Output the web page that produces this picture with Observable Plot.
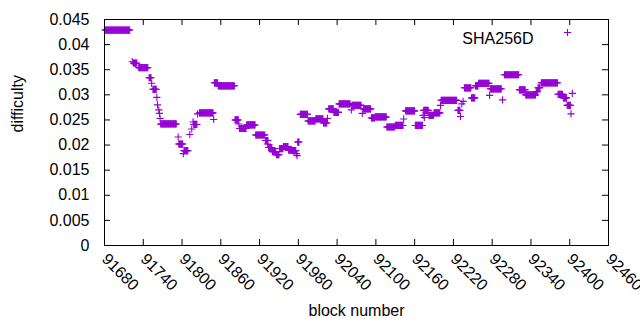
<!DOCTYPE html>
<html>
<head>
<meta charset="utf-8">
<script src="https://cdn.jsdelivr.net/npm/d3@7"></script>
<script src="https://cdn.jsdelivr.net/npm/@observablehq/plot@0.6"></script>
<style>
  html, body { margin: 0; padding: 0; background: white; }
</style>
</head>
<body>
<div id="chart"></div>
<script>
// Runs of consecutive blocks sharing the same difficulty (start block, end block, value)
const runStart = [91681,91723,91725,91733,91749,91753,91755,91761,91762,91764,91765,91766,91767,91794,91795,91802,91803,91812,91815,91817,91818,91824,91827,91849,91850,91856,91882,91888,91889,91900,91914,91929,91932,91934,91940,91946,91951,91957,91965,91971,91977,91978,91979,91983,91995,92007,92019,92025,92027,92035,92043,92062,92063,92079,92081,92093,92099,92117,92130,92143,92146,92161,92173,92174,92175,92182,92190,92200,92201,92227,92231,92233,92235,92237,92248,92254,92259,92276,92277,92296,92299,92322,92332,92348,92351,92356,92382,92390,92396,92402,92404];
const runEnd   = [91719,91723,91730,91747,91752,91753,91760,91761,91762,91764,91765,91766,91791,91794,91801,91802,91809,91812,91815,91817,91823,91824,91848,91849,91855,91881,91887,91888,91899,91913,91928,91933,91932,91939,91945,91950,91956,91964,91970,91976,91977,91978,91981,91994,92006,92018,92024,92025,92034,92042,92060,92062,92077,92079,92092,92098,92116,92129,92142,92143,92160,92172,92173,92181,92175,92189,92199,92200,92225,92230,92231,92233,92235,92247,92253,92258,92275,92276,92294,92296,92321,92331,92347,92350,92354,92381,92389,92395,92401,92402,92404];
const runValue = [0.0429,0.0366,0.0363,0.0354,0.0334,0.0323,0.0311,0.0295,0.0280,0.0270,0.0263,0.0253,0.0242,0.0216,0.0202,0.0183,0.0189,0.0221,0.0232,0.0246,0.0241,0.0262,0.0264,0.0251,0.0324,0.0318,0.0250,0.0242,0.0233,0.0240,0.0220,0.0209,0.0202,0.0195,0.0187,0.0181,0.0193,0.0197,0.0190,0.0189,0.0183,0.0179,0.0206,0.0261,0.0248,0.0252,0.0244,0.0253,0.0272,0.0265,0.0282,0.0270,0.0279,0.0263,0.0272,0.0254,0.0256,0.0236,0.0239,0.0252,0.0268,0.0239,0.0259,0.0269,0.0255,0.0259,0.0264,0.0279,0.0289,0.0269,0.0257,0.0282,0.0287,0.0314,0.0294,0.0318,0.0323,0.0299,0.0312,0.0290,0.0340,0.0310,0.0300,0.0306,0.0314,0.0324,0.0301,0.0294,0.0279,0.0262,0.0303];

const seriesName = "SHA256D";
const xTicks = [91680,91740,91800,91860,91920,91980,92040,92100,92160,92220,92280,92340,92400,92460];
const xTickLabels = ["91680","91740","91800","91860","91920","91980","92040","92100","92160","92220","92280","92340","92400","92460"];
const yTicks = [0,0.005,0.01,0.015,0.02,0.025,0.03,0.035,0.04,0.045];
const yTickLabels = ["0","0.005","0.01","0.015","0.02","0.025","0.03","0.035","0.04","0.045"];
const xLabel = "block number";
const yLabel = "difficulty";

const points = [];
runStart.forEach((s, i) => {
  for (let b = s; b <= runEnd[i]; b++) points.push({block: b, difficulty: runValue[i]});
});

const plusSymbol = {
  draw(context, size) {
    const r = Math.sqrt(size / Math.PI);
    context.moveTo(-r, 0); context.lineTo(r, 0);
    context.moveTo(0, -r); context.lineTo(0, r);
  }
};

const color = "#9400d3";
const W = 640, H = 330, mL = 104, mR = 32, mT = 19, mB = 85;
const plotW = W - mL - mR, plotH = H - mT - mB, tick = 6;

const chart = Plot.plot({
  width: W, height: H,
  marginLeft: mL, marginRight: mR, marginTop: mT, marginBottom: mB,
  x: {domain: [xTicks[0], xTicks[xTicks.length - 1]]},
  y: {domain: [yTicks[0], yTicks[yTicks.length - 1]]},
  style: {fontFamily: "'Liberation Sans', Arial, sans-serif", fontSize: "16px", background: "white", color: "black"},
  marks: [
    Plot.axisY({ticks: yTicks, tickSize: 0, tickPadding: 15, tickFormat: d => yTickLabels[yTicks.indexOf(d)], label: null, fontSize: 16}),
    Plot.axisX({ticks: xTicks, tickSize: 0, tickPadding: 11, tickRotate: 45, textAnchor: "start", lineAnchor: "middle", tickFormat: d => xTickLabels[xTicks.indexOf(d)], label: null, fontSize: 16}),
    Plot.tickY(yTicks, {y: d => d, insetRight: plotW - tick, stroke: "black"}),
    Plot.tickY(yTicks, {y: d => d, insetLeft: plotW - tick, stroke: "black"}),
    Plot.tickX(xTicks, {x: d => d, insetTop: plotH - tick, stroke: "black"}),
    Plot.tickX(xTicks, {x: d => d, insetBottom: plotH - tick, stroke: "black"}),
    Plot.dot(points, {x: "block", y: "difficulty", symbol: plusSymbol, r: 3.6, stroke: color, fill: "none", strokeWidth: 1.1}),
    Plot.frame({stroke: "black", strokeWidth: 1}),
    Plot.text([seriesName], {text: d => d, frameAnchor: "top-right", dx: -75, dy: 13, textAnchor: "end", fontSize: 16, fill: "black"}),
    Plot.dot([seriesName], {frameAnchor: "top-right", dx: -41, dy: 13, symbol: plusSymbol, r: 3.6, stroke: color, fill: "none", strokeWidth: 1.1}),
    Plot.text([yLabel], {text: d => d, frameAnchor: "left", dx: -87, rotate: -90, fontSize: 16, fill: "black"}),
    Plot.text([xLabel], {text: d => d, frameAnchor: "bottom", dy: 70, fontSize: 16, fill: "black"})
  ]
});
document.getElementById("chart").appendChild(chart);
</script>
</body>
</html>
